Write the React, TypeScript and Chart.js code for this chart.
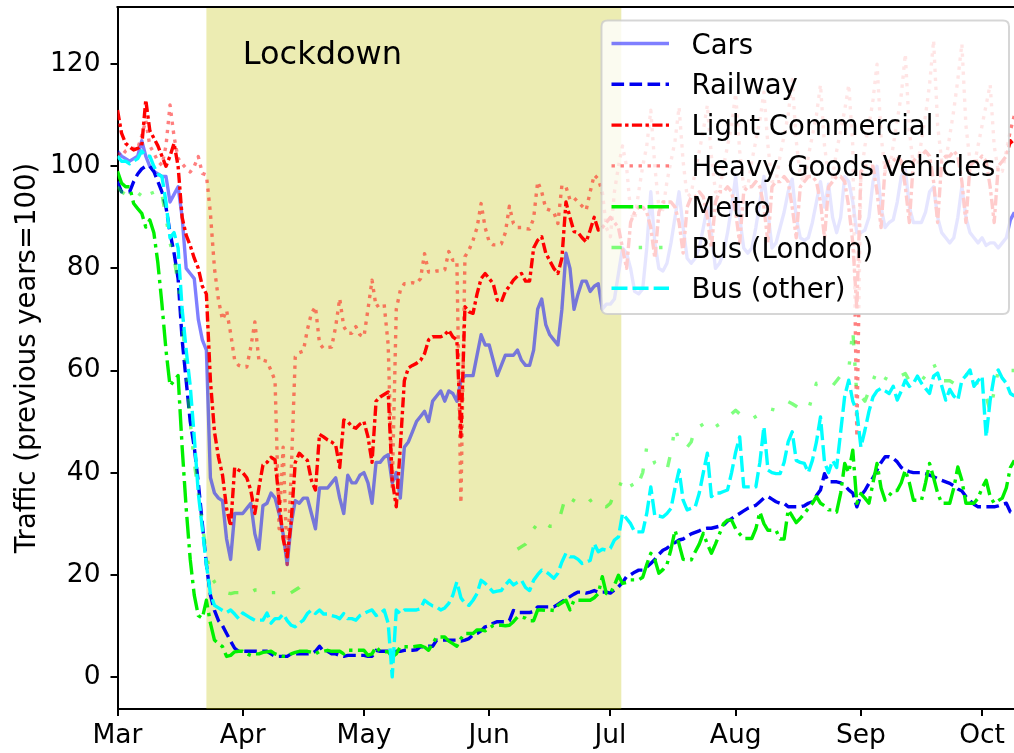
import React, { useEffect, useRef } from "react";
import { Chart, registerables } from "chart.js";

Chart.register(...registerables);

// x = days since 1 March 2020
const MONTH_TICKS = [0, 31, 61, 92, 122, 153, 184, 214];
const MONTH_LABELS = ["Mar", "Apr", "May", "Jun", "Jul", "Aug", "Sep", "Oct"];
const Y_TICKS = [0, 20, 40, 60, 80, 100, 120];
const X_RANGE = [0, 221.9];
const Y_RANGE = [-6.3, 131.2];
const LOCKDOWN = [22, 124.7];
const LOCKDOWN_TEXT = "Lockdown";
const LOCKDOWN_TEXT_AT = [31, 120];
const Y_TITLE = "Traffic (previous years=100)";

const SERIES_NAMES = [
  "Cars",
  "Railway",
  "Light Commercial",
  "Heavy Goods Vehicles",
  "Metro",
  "Bus (London)",
  "Bus (other)",
];

// one row per week (Sun..Sat)
const CARS = [
  103, 102, 101.5, 101, 101.5, 102, 105,
  102, 100, 99, 98.5, 98, 98, 93,
  94.5, 96, 90, 80, 79, 78, 70,
  66, 64, 39, 36, 35, 34.5, 27,
  23, 32, 32, 32, 33, 34, 28,
  25, 33.5, 34, 36, 35, 32, 28,
  22, 30, 34.5, 34, 35, 35, 32,
  29, 37, 37, 37, 38, 39, 35,
  32, 39.5, 38, 38, 39.5, 40, 38,
  34, 42, 42, 43, 43.5, 38, 40,
  35, 45, 46, 48, 50, 51, 52,
  50, 54, 55, 56, 54, 56, 55.5,
  54, 58, 59, 59, 59, 63, 67,
  65, 65, 62, 59, 61, 63, 63,
  63, 64, 62, 61, 61, 64, 72,
  74, 69, 67, 66, 65, 72, 83,
  80, 72, 75, 77.5, 77.5, 75.5, 76.5,
  77, 72, 73, 73, 74, 79, 84,
  83, 80, 75.5, 75, 76, 84, 95,
  85, 80, 79.5, 81, 85, 90, 95,
  88, 82, 81, 82, 84, 88, 92,
  87, 80, 81, 83, 87, 92, 98,
  90, 84, 83, 84, 88, 93, 98,
  91, 84, 85, 88, 91, 95, 97.5,
  90, 86, 85.5, 86, 89, 93, 97,
  92, 96.5, 90, 87, 90, 98, 97,
  93, 87, 87, 87.5, 90, 97, 100,
  92, 88, 89, 89.5, 93, 98, 99.5,
  92, 89, 89, 89, 91, 95, 96,
  90, 87, 86, 85, 86, 90, 96,
  90, 87, 86, 85, 86, 84.5, 85,
  85, 84, 85, 86, 89.5, 91, 92,
];

const RAILWAY = [
  97, 95, 95, 95, 97, 98.5, 99.5,
  100, 100, 99, 97, 95, 92, 87,
  83, 78, 66, 58, 50, 45, 38,
  30, 22, 16, 13, 11, 10, 8.5,
  7, 5.6, 5, 5, 5, 5, 5,
  5, 5, 5, 4.5, 4, 4, 4,
  4, 4.5, 4.5, 4.5, 4.5, 4.5, 4.5,
  5, 6, 5, 5, 4.5, 4.5, 4.2,
  4, 4.2, 4.2, 4.2, 4.2, 4.2, 4,
  4, 5.2, 5, 5, 5, 4.8, 5,
  5, 5.2, 5.2, 5.2, 5.3, 5.9, 5.9,
  6, 6, 7.2, 7.2, 7.2, 7.2, 7.2,
  7.2, 7, 7.2, 7.5, 8.2, 8.5, 9,
  9.8, 10, 10.5, 10.8, 10.8, 10.8, 11,
  13, 12.6, 12.6, 12.6, 12.6, 12.8, 13.7,
  13.7, 13.7, 13.7, 13.7, 14.2, 14.7, 15.2,
  15.7, 16.2, 16.6, 16.6, 16.4, 16.6, 16.9,
  16.6, 16.6, 16.6, 16.4, 17, 17.6, 18.5,
  19.6, 20, 20.5, 20.9, 20.9, 21.5, 22.2,
  23, 24, 24.8, 25.2, 25.8, 26.3, 26.8,
  27, 27.5, 28, 28.3, 28.6, 29, 29.1,
  29.1, 29.3, 29.5, 29.7, 30.5, 31, 31.5,
  32, 32.5, 33, 33.3, 33.6, 34.3, 35,
  35.3, 34.8, 34.3, 34, 34, 33.3, 33.3,
  33.3, 33.3, 33.5, 34, 34.3, 35.5, 36.6,
  39.8, 38.2, 38.2, 38.2, 38, 37.5, 36.6,
  36, 33.3, 35.5, 36.5, 37.9, 39, 40.5,
  42, 43.1, 43.1, 42.8, 42.1, 41, 40.5,
  40.2, 40, 40, 40, 39.8, 39.5, 39.2,
  38.8, 38.5, 38.2, 37.9, 37.4, 36.8, 36.4,
  35.3, 34.5, 33.8, 33.3, 33.3, 33.3, 33.3,
  33.3, 33.5, 33.8, 34, 32.3, 32, 32,
];

const LIGHT_COMMERCIAL = [
  111, 106.5, 104.5, 103.8, 103.2, 103.5, 104,
  113, 107, 105.5, 104, 102, 100, 102,
  104.5, 100, 90, 86.5, 84.5, 82, 80,
  76.5, 75, 58, 48, 43, 39.5, 33,
  29.5, 41, 40.5, 40, 39, 36.5, 32,
  37, 41.5, 42, 43, 42.5, 34.5, 27,
  23.5, 30.5, 42, 43.8, 43, 42.4, 38.5,
  36.6, 47.5, 47, 46.4, 46, 45.4, 41,
  50.3, 50, 49, 48.7, 49.5, 50, 47,
  42, 54, 54.8, 55.3, 55.8, 38.5, 33.3,
  45, 58, 60.5, 61, 61.4, 62, 63.3,
  66, 66.6, 66.6, 66.6, 67, 67.9, 66.6,
  66, 47, 72.5, 71.5, 71.2, 75, 78,
  79, 78, 77, 73.8, 73.4, 75.5, 76.5,
  77.7, 78.5, 79, 77.5, 77.5, 84, 85.5,
  86.2, 83, 81.5, 80, 79, 82, 93,
  90, 87.2, 87, 86, 85.2, 87.5, 90,
  87.5, 88, 89, 90, 89, 88, 84,
  80, 89, 91, 92, 92, 91, 88,
  82, 91, 93, 93, 93, 92, 89,
  83, 92, 94, 94, 95, 94, 90,
  84, 93, 95, 95, 96, 95, 91,
  85, 95, 96, 96, 97, 96, 92,
  85, 96, 97, 97, 98, 97, 92,
  86, 96, 97, 98, 98, 97, 93,
  86, 96, 97, 98, 98, 97, 92,
  85, 72, 99, 100, 100, 100, 95,
  88, 100, 101, 101, 102, 101, 96,
  89, 101, 102, 102, 103, 102, 97,
  89, 101, 102, 102, 103, 102, 97,
  89, 100, 101, 101, 102, 101, 96,
  89, 100, 101, 102, 105, 104, 103,
];

const HEAVY_GOODS = [
  102.6, 102, 103, 103.5, 103.5, 103.5, 106,
  109, 104, 102.6, 101, 100.2, 104, 112,
  105.8, 101.6, 100.5, 99.6, 98.9, 100, 101.9,
  98.6, 98.3, 90.8, 80, 73.8, 69.9, 71.8,
  67.3, 62, 61, 60.7, 60.7, 64.6, 69.5,
  62, 62, 61.8, 60, 58, 29, 45,
  22, 40, 62.7, 63.5, 63.8, 68, 71.2,
  72.5, 65.3, 64.3, 64.5, 64.6, 68.6, 74.1,
  68.6, 67.3, 67.3, 68.6, 67, 66.6, 72,
  77.7, 72.5, 73, 73, 65, 37, 72,
  75.7, 77, 77, 77.2, 77, 78, 82.9,
  79.3, 79.3, 79.5, 79.5, 79.7, 83.3, 81.6,
  81.6, 34, 82.3, 83.6, 85.5, 88, 92.7,
  88, 85.2, 84.6, 84.6, 84.8, 87, 92.2,
  88.8, 88, 88, 87.8, 87.7, 89.8, 97,
  95, 91.7, 91.4, 91, 88.8, 96.3, 96,
  93.4, 93.8, 93, 92.2, 91.4, 95, 98.3,
  97.5, 95, 88, 86.2, 95, 100, 104,
  100, 91, 89.5, 95, 100, 104, 111,
  100, 92, 91.5, 97, 101, 105, 111.6,
  101, 94, 94.7, 99, 103, 107, 112,
  102, 95, 95, 100, 104, 108, 114.3,
  103, 96, 96, 101, 105, 109, 114.5,
  104, 97, 97, 102, 106, 110, 117,
  105, 98, 97, 102, 106, 110, 116,
  104, 98, 97.9, 103, 107, 111, 116,
  104, 47, 98, 104, 108, 113, 120,
  106, 99, 99, 104, 109, 114, 122,
  107, 100, 100, 105, 110, 116, 124.7,
  108, 101, 101, 106, 111, 117, 124,
  108, 101, 100, 104, 108, 112, 116,
  104, 99, 99, 103, 107, 110, 114,
];

const METRO = [
  99, 96.7, 96, 96, 92.7, 91.7, 90.8,
  88.1, 89.5, 87, 81, 73, 64, 57,
  58, 59, 45, 33, 23, 16, 12,
  11.5, 15, 10.5, 7.2, 6.5, 5.9, 4,
  4.2, 4.9, 5, 5, 4.5, 4.2, 4.5,
  4.5, 4.8, 4.9, 5, 4.5, 4.2, 4,
  4, 4.5, 4.8, 5, 5, 5, 4.8,
  4.5, 5, 5, 5.2, 5, 5, 5,
  4.5, 5.2, 5.2, 5.2, 5.2, 5.2, 4.2,
  4.5, 5.9, 5, 4.9, 4.9, 3.9, 4.5,
  5.9, 5.9, 5.9, 5.9, 6, 6.1, 5.8,
  5.2, 6.5, 7.8, 7.8, 7.8, 7, 6.5,
  6, 7.5, 8.5, 8.5, 8.5, 9.2, 9.2,
  9, 9.5, 10.1, 10.1, 10.1, 10, 10.1,
  10.8, 11.7, 11.7, 11.5, 11, 11, 13.1,
  13.1, 13, 13.1, 13, 14, 14.5, 15,
  13.1, 15, 15, 15, 15, 15, 15.5,
  16.3, 19.6, 16.3, 16.3, 18, 19.9, 18.3,
  18.5, 19, 19, 19, 19.5, 22, 24.2,
  23, 20.3, 21, 22, 25, 28.7, 26,
  23, 22.9, 22.9, 24.5, 26, 28.1, 26,
  24.2, 26, 28, 30, 30.7, 30.7, 29,
  28, 27.1, 27.1, 27.1, 29, 32.3, 30,
  28.7, 28.7, 28.7, 27, 27, 32.7, 31.5,
  30.2, 31, 32, 33, 34, 35.3, 34,
  33.5, 32.7, 32.7, 32.3, 36, 41.8, 40,
  44.4, 34, 35.9, 35, 34, 38, 41.8,
  37, 34.6, 35.5, 36.5, 36.5, 38, 40.5,
  38, 34.6, 34.6, 34.6, 38, 41.8, 39,
  36, 34, 34, 34, 37, 41.1, 38.5,
  34, 34, 34, 35, 37, 38.5, 35.3,
  34, 34.5, 35, 37, 41, 42.4, 43,
];

const BUS_LONDON = [
  96, 95, 94.5, 94, 93.5, 94, 95,
  96, 96, 94, 93.4, 94.5, 90, 85,
  82, 77, 70, 60, 50, 42, 36,
  30, 24, 20, 18.6, 17.5, 17, 16.5,
  16.3, 16.5, 16.5, 17, 16.5, 16.5, 17,
  17, 17.4, 17, 16.5, 16.5, 16.5, 16.5,
  16, 16.5, 17, 17.5, 18.3, 18, null,
  null, null, null, null, null, null, null,
  null, null, null, null, null, null, null,
  null, null, null, null, null, null, null,
  null, null, null, null, null, null, null,
  null, null, null, null, null, null, null,
  null, null, null, null, null, null, null,
  null, null, null, null, null, null, null,
  null, 25, 25.5, 26, 27, 29, 30,
  30.7, 30, 29.5, 29.5, 30, 32.7, 35.6,
  35, 34.5, 34, 33.6, 33.6, 34.5, 35,
  34, 33.5, 33.3, 34, 36, 36.6, 38.9,
  39.2, 38, 36.6, 38, 40, 45, 44,
  41.8, 41, 40.5, 40.5, 44, 49, 46,
  45, 45, 46, 49, 49, 49.5, 50.3,
  49.5, 49, 49.5, 50.5, 51, 51.5, 52.2,
  51.5, 50.8, 50.3, 50.5, 51, 51.5, 52,
  52.6, 52.4, 52.2, 53, 53.5, 53.9, 53.5,
  53, 52.5, 52.2, 52.2, 55, 57.5, 57.2,
  57, 57, 57, 58, 59, 59.5, 60.1,
  68, 55, 55, 54, 56, 58, 60.1,
  59, 58.5, 58.1, 58.1, 58.1, 59, 59.4,
  58, 57.8, 57.5, 58, 59, 60, 61.4,
  59.5, 58, 58, 58, 57.5, 57, 58,
  59, 60, 58.5, 57, 56, 55, 52,
  56, 60, 60, 60, 60, 60, 60,
];

const BUS_OTHER = [
  102, 101, 101, 100.5, 101, 101.5, 103,
  102, 102, 100, 98.5, 98, 93, 86,
  87, 84, 72, 64, 57, 47, 36,
  29, 22, 16.3, 14, 13.5, 13, 12.6,
  13.1, 12.3, 11.4, 12.5, 12, 11.5, 11.1,
  11.1, 11.1, 12.5, 10.5, 11.4, 11.4, 12.3,
  11, 10.1, 9.8, 10.5, 11.1, 12.4, 13.1,
  12.4, 13.1, 12.3, 12.3, 12, 11.8, 11.4,
  12.4, 11.4, 11.4, 11.1, 12, 12.4, 12.8,
  13.1, 12, 12.4, 13.1, 10.5, 0, 13.1,
  12.4, 13.1, 13.1, 13.1, 13.1, 13.3, 15,
  14.4, 13.9, 13.7, 13.1, 13.5, 14.4, 16,
  18.6, 15.5, 14.4, 14, 15, 16.3, 18.9,
  18.3, 17.5, 16.6, 16.8, 16.9, 18, 18.9,
  18, 18.5, 18.9, 17.5, 16.9, 18.9, 20,
  20.9, 20.6, 20, 19.3, 20.3, 22.5, 24.2,
  23.5, 23.5, 23, 22.2, 22.5, 22.8, 26.1,
  24.5, 25, 24.8, 25.2, 26.8, 27.4, 32,
  31, 30, 28.4, 28.4, 28.4, 32, 37.2,
  31.5, 31.5, 31.3, 32, 33, 37, 40.5,
  34.6, 32.7, 33, 33.3, 36, 40, 43.8,
  35.3, 36, 36, 36.3, 36.6, 40, 44,
  47, 37.2, 37.2, 37.2, 37.2, 42, 49,
  40.5, 40, 39.8, 39.8, 42, 46, 48,
  42.4, 42, 41.8, 40, 42.4, 46, 50.9,
  42, 40, 42.4, 41, 48, 55, 58.1,
  54, 52, 45, 48.3, 52, 54.8, 56,
  56.5, 56, 55.5, 56.9, 54.2, 56, 58.1,
  56.9, 57.5, 58.9, 57.5, 56.5, 55.5, 58.9,
  59.5, 57, 54.2, 56.3, 55, 54.2, 58.1,
  59, 60.1, 56.9, 58, 58.9, 47, 54.2,
  58.9, 60.1, 58.5, 57.5, 55.5, 55, 56,
];

const SERIES_VALUES = [CARS, RAILWAY, LIGHT_COMMERCIAL, HEAVY_GOODS, METRO, BUS_LONDON, BUS_OTHER];

const LW = 3.4;
const STYLES = [
  { color: "rgba(0,0,255,0.5)", dash: [] as number[] },
  { color: "#0000f0", dash: [3.7 * LW, 1.6 * LW] },
  { color: "#ff0000", dash: [3 * LW, 1 * LW, 1 * LW, 1 * LW] },
  { color: "rgba(255,0,0,0.5)", dash: [1 * LW, 1.65 * LW] },
  { color: "#00f000", dash: [6.4 * LW, 1.6 * LW, 1 * LW, 1.6 * LW] },
  { color: "rgba(0,255,0,0.5)", dash: [3 * LW, 5 * LW, 1 * LW, 5 * LW, 1 * LW, 5 * LW] },
  { color: "#00ffff", dash: [4.7 * LW, 1.5 * LW] },
];

const FONT = "'DejaVu Sans', sans-serif";

const overlayPlugin = {
  id: "overlay",
  beforeDatasetsDraw(chart: any) {
    const { ctx, chartArea, scales } = chart;
    const x = scales.x;
    const y = scales.y;
    ctx.save();
    ctx.beginPath();
    ctx.rect(chartArea.left, chartArea.top, chartArea.right - chartArea.left, chartArea.bottom - chartArea.top);
    ctx.clip();
    const x0 = x.getPixelForValue(LOCKDOWN[0]);
    const x1 = x.getPixelForValue(LOCKDOWN[1]);
    ctx.fillStyle = "rgba(191,191,0,0.3)";
    ctx.fillRect(x0, chartArea.top, x1 - x0, chartArea.bottom - chartArea.top);
    ctx.fillStyle = "#000";
    ctx.font = `32px ${FONT}`;
    ctx.textAlign = "left";
    ctx.textBaseline = "alphabetic";
    ctx.fillText(LOCKDOWN_TEXT, x.getPixelForValue(LOCKDOWN_TEXT_AT[0]), y.getPixelForValue(LOCKDOWN_TEXT_AT[1]));
    ctx.restore();
  },
  afterDatasetsDraw(chart: any) {
    const { ctx, chartArea } = chart;
    ctx.save();
    // top spine
    ctx.strokeStyle = "#000";
    ctx.lineWidth = 2;
    ctx.beginPath();
    ctx.moveTo(chartArea.left - 1, chartArea.top);
    ctx.lineTo(chartArea.right, chartArea.top);
    ctx.stroke();

    // legend
    const bx = 601.5, by = 20.5, bw = 407.5, bh = 293.5, r = 6;
    ctx.beginPath();
    ctx.moveTo(bx + r, by);
    ctx.lineTo(bx + bw - r, by);
    ctx.quadraticCurveTo(bx + bw, by, bx + bw, by + r);
    ctx.lineTo(bx + bw, by + bh - r);
    ctx.quadraticCurveTo(bx + bw, by + bh, bx + bw - r, by + bh);
    ctx.lineTo(bx + r, by + bh);
    ctx.quadraticCurveTo(bx, by + bh, bx, by + bh - r);
    ctx.lineTo(bx, by + r);
    ctx.quadraticCurveTo(bx, by, bx + r, by);
    ctx.closePath();
    ctx.fillStyle = "rgba(255,255,255,0.8)";
    ctx.fill();
    ctx.strokeStyle = "rgba(204,204,204,0.8)";
    ctx.lineWidth = 2;
    ctx.stroke();

    ctx.font = `27.5px ${FONT}`;
    ctx.textAlign = "left";
    ctx.textBaseline = "alphabetic";
    SERIES_NAMES.forEach((name, i) => {
      const yy = 43.5 + i * 40.8;
      const st = STYLES[i];
      ctx.strokeStyle = st.color;
      ctx.lineWidth = LW;
      ctx.lineCap = "butt";
      ctx.setLineDash(st.dash);
      ctx.beginPath();
      ctx.moveTo(611.5, yy);
      ctx.lineTo(669, yy);
      ctx.stroke();
      ctx.setLineDash([]);
      ctx.fillStyle = "#000";
      ctx.fillText(name, 691.5, yy + 10);
    });
    ctx.restore();
  },
};

export default function App() {
  const ref = useRef<HTMLCanvasElement | null>(null);

  useEffect(() => {
    if (!ref.current) return;
    const datasets = SERIES_NAMES.map((name, i) => ({
      label: name,
      data: SERIES_VALUES[i].map((v, d) => ({ x: d, y: v })),
      borderColor: STYLES[i].color,
      backgroundColor: STYLES[i].color,
      borderWidth: LW,
      borderDash: STYLES[i].dash,
      borderCapStyle: "butt",
      borderJoinStyle: "round",
      pointRadius: 0,
      pointHoverRadius: 0,
      tension: 0,
      fill: false,
      spanGaps: false,
      order: SERIES_NAMES.length - i,
    }));

    const chart = new Chart(ref.current, {
      type: "line",
      data: { datasets } as any,
      plugins: [overlayPlugin],
      options: {
        animation: false,
        responsive: true,
        maintainAspectRatio: false,
        layout: { padding: { top: 7, right: 0, left: 0, bottom: 0 } },
        plugins: { legend: { display: false }, tooltip: { enabled: false } },
        events: [],
        scales: {
          x: {
            type: "linear",
            min: X_RANGE[0],
            max: X_RANGE[1],
            afterBuildTicks: (s: any) => {
              s.ticks = MONTH_TICKS.map((v) => ({ value: v }));
            },
            afterFit: (s: any) => {
              s.height = 44;
              s.paddingLeft = 0;
              s.paddingRight = 0;
            },
            ticks: {
              autoSkip: false,
              maxRotation: 0,
              padding: 4,
              color: "#000",
              font: { family: FONT, size: 26.5 },
              callback: (v: any) => MONTH_LABELS[MONTH_TICKS.indexOf(Number(v))] ?? "",
            },
            grid: {
              display: true,
              drawOnChartArea: false,
              drawTicks: true,
              tickLength: 7,
              color: "#000",
              lineWidth: 2,
            },
            border: { display: true, color: "#000", width: 2 },
          },
          y: {
            type: "linear",
            min: Y_RANGE[0],
            max: Y_RANGE[1],
            afterBuildTicks: (s: any) => {
              s.ticks = Y_TICKS.map((v) => ({ value: v }));
            },
            afterFit: (s: any) => {
              s.width = 117.5;
              s.paddingTop = 0;
              s.paddingBottom = 0;
            },
            ticks: {
              padding: 10,
              color: "#000",
              font: { family: FONT, size: 26.5 },
              callback: (v: any) => String(v),
            },
            grid: {
              display: true,
              drawOnChartArea: false,
              drawTicks: true,
              tickLength: 7,
              color: "#000",
              lineWidth: 2,
            },
            border: { display: true, color: "#000", width: 2 },
            title: {
              display: true,
              text: Y_TITLE,
              color: "#000",
              font: { family: FONT, size: 27.5 },
              padding: { top: 11, bottom: 0 },
            },
          },
        },
      } as any,
    });
    return () => chart.destroy();
  }, []);

  return (
    <div style={{ position: "absolute", left: 0, top: 0, width: 1014, height: 753, background: "#fff" }}>
      <canvas ref={ref} />
    </div>
  );
}
